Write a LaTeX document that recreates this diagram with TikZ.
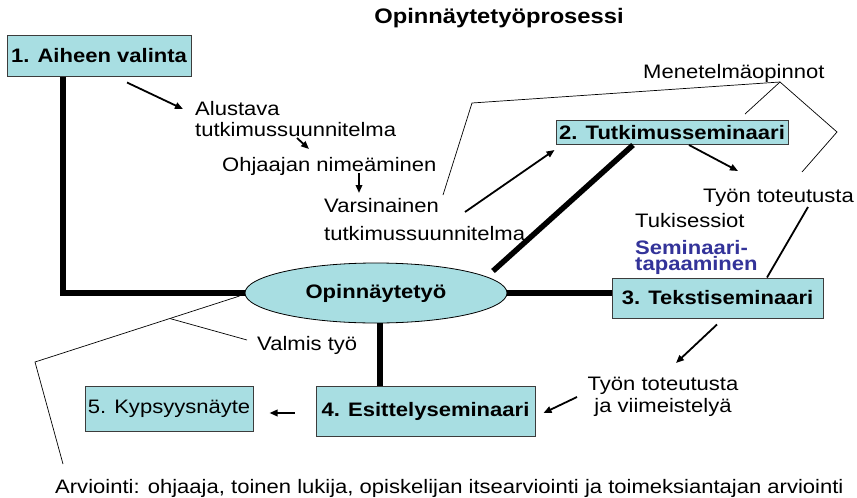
\documentclass[tikz,border=0pt]{standalone}
\usepackage{fontspec}
\setmainfont{Liberation Sans}[FakeStretch=1.13]
\usetikzlibrary{arrows.meta,shapes.geometric,calc}

\definecolor{boxfill}{RGB}{168,222,226}
\definecolor{boxline}{RGB}{60,60,60}
\definecolor{semblue}{RGB}{51,51,153}

\newcommand{\bodyfont}{\fontsize{19.5}{22}\selectfont}

\begin{document}
\begin{tikzpicture}[x=1pt,y=-1pt,
  every node/.style={inner sep=0pt, font=\bodyfont},
  stagebox/.style={draw=boxline, line width=1pt, fill=boxfill, font=\bodyfont\bfseries},
  trunk/.style={line width=5.5pt},
  flow/.style={line width=1.8pt, -{Triangle[length=8pt,width=6.5pt]}},
  link/.style={line width=1.8pt},
  brace/.style={line width=0.7pt},
]
% canvas
\fill[white] (0,0) rectangle (857,498);
\useasboundingbox (0,0) rectangle (857,498);

% title
\node (title) at (499,18) {\fontsize{21}{24}\selectfont\bfseries Opinnäytetyöprosessi};

% stages
\node[stagebox, minimum width=184pt, minimum height=41pt] (s1) at (99,55.5) {1. Aiheen valinta};
\node[stagebox, minimum width=232pt, minimum height=24pt] (s2) at (672,132.5) {2. Tutkimusseminaari};
\node[stagebox, minimum width=211pt, minimum height=40pt] (s3) at (717.5,298) {3. Tekstiseminaari};
\node[stagebox, minimum width=219pt, minimum height=50pt] (s4) at (425.5,411) {4. Esittelyseminaari};
\node[stagebox, font=\bodyfont, minimum width=168pt, minimum height=45pt] (s5) at (169,408.5) {5. Kypsyysnäyte};

% central work
\node[ellipse, draw=black, line width=0.8pt, fill=boxfill, minimum width=262pt, minimum height=60pt,
      font=\bodyfont\bfseries] (work) at (376,293) {Opinnäytetyö};

% free labels (multi-line labels are placed by the baseline of their last line)
\node[anchor=base west, align=left, font=\fontsize{19.5}{21}\selectfont] (alust) at (195,136) {Alustava\\tutkimussuunnitelma};
\node[anchor=base west] (ohj) at (222,171) {Ohjaajan nimeäminen};
\node[anchor=base west, align=left, font=\fontsize{19.5}{27.5}\selectfont] (vars) at (324,240) {Varsinainen\\tutkimussuunnitelma};
\node[anchor=base west] (men) at (643,78) {Menetelmäopinnot};
\node[anchor=base west] (tyon1) at (703,202) {Työn toteutusta};
\node[anchor=base west] (tuki) at (635,227) {Tukisessiot};
\node[anchor=base west, align=left, text=semblue, font=\fontsize{19.5}{16}\selectfont\bfseries] (sem) at (635,270) {Seminaari-\\tapaaminen};
\node[anchor=base, align=center, font=\fontsize{19.5}{21.7}\selectfont] (tyon2) at (663,412) {Työn toteutusta\\ja viimeistelyä};
\node[anchor=base west] (valmis) at (257,350) {Valmis työ};
\node[anchor=base west] (arv) at (55,493) {Arviointi: ohjaaja, toinen lukija, opiskelijan itsearviointi ja toimeksiantajan arviointi};

% main trunk lines
\draw[trunk] ([xshift=-36pt]s1.south) |- (work.west);
\draw[trunk] ($(work.center)+(117,-22)$) -- ([xshift=-39pt]s2.south);
\draw[trunk] (work.east) -- (work.east -| s3.west);
\draw[trunk] ([xshift=4pt]work.south) -- ([xshift=4pt]work.south |- s4.north);

% flow arrows
\draw[flow] ($(s1.south)+(28,6)$) -- ($(alust.base west)+(-12,-27)$);
\draw[flow] ($(alust.base west)+(102,2)$) -- ($(ohj.base west)+(87,-22)$);
\draw[flow] ($(ohj.base west)+(137,2)$) -- ($(vars.base west)+(35,-47)$);
\draw[flow] ($(vars.base west)+(141,-28)$) -- ($(s2.south west)+(-1,5)$);
\draw[flow] ($(s2.south)+(17,0)$) -- ($(tyon1.base west)+(35,-31)$);
\draw[link] ($(tyon1.base west)+(105,5)$) -- ($(s3.north)+(49.5,0)$);
\draw[flow] ($(s3.south)+(-0.5,6)$) -- ($(tyon2.base)+(13,-49)$);
\draw[flow] ($(tyon2.base)+(-86,-15)$) -- ($(s4.east)+(8,2)$);
\draw[flow] ($(s4.west)+(-21,2)$) -- ($(s5.east)+(16,4.5)$);

% method studies bracket
\coordinate (mp) at ($(men.base west)+(137,4)$);
\coordinate (mpl) at (472,103);
\coordinate (mpr) at (837,132);
\draw[brace] ($(vars.base west)+(119,-45)$) -- (mpl) -- (mp) -- (mpr) -- ($(tyon1.base west)+(99,-30)$);
\draw[brace] (mp) -- ($(s2.north)+(73,-6)$);

% assessment bracket
\coordinate (va) at ($(work.west)+(-5,3)$);
\coordinate (vk) at (35,362);
\draw[brace] (va) -- (vk) -- ($(arv.base west)+(8,-29)$);
\draw[brace] ($(va)!0.341!(vk)$) -- ($(valmis.base west)+(-10,-10)$);
\end{tikzpicture}
\end{document}
